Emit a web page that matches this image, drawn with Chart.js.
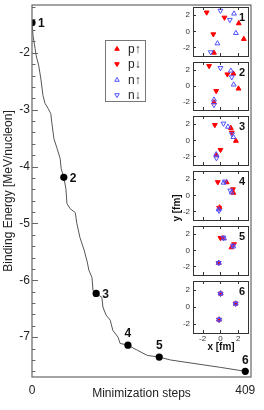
<!DOCTYPE html>
<html>
<head>
<meta charset="utf-8">
<script src="https://cdn.jsdelivr.net/npm/chart.js@4.4.1/dist/chart.umd.min.js"></script>
<style>
  body { margin: 0; background: #fff; }
  #fig { position: relative; width: 264px; height: 410px; }
  #fig canvas { position: absolute; }
</style>
</head>
<body>
<div id="fig">
  <canvas id="main" width="264" height="410" style="left:0;top:0"></canvas>
</div>
<script>
// energy along the minimization path
const steps = [0, 2, 6, 8, 13, 17, 21, 25, 31, 36, 38, 42, 48, 54, 56, 61, 65, 67, 73, 83, 86, 92,
  100, 106, 109, 115, 117, 123, 134, 136, 142, 150, 155, 165, 169, 184, 202, 221, 244, 265, 309, 361, 409];
const energy = [-1.47, -1.70, -1.93, -2.05, -2.23, -2.46, -2.75, -2.89, -2.98, -3.07, -3.23, -3.51, -3.68,
  -3.86, -4.04, -4.19, -4.39, -4.65, -4.74, -4.81, -5.00, -5.25, -5.47, -5.68, -5.82, -5.95, -6.18, -6.23,
  -6.30, -6.47, -6.61, -6.70, -6.88, -7.00, -7.11, -7.14, -7.23, -7.32, -7.35, -7.40, -7.46, -7.53, -7.60];

// configurations shown in the insets
const markSteps = [0, 61, 123, 184, 244, 409];
const markEnergy = [-1.47, -4.19, -6.23, -7.14, -7.35, -7.60];
const markNames = ['1', '2', '3', '4', '5', '6'];

const xTickValues = [0, 409];
const yTickValues = [-7, -6, -5, -4, -3, -2];

// nucleon positions [x, y] in fm, one list per inset panel
const pUp = [
  [[2.05, 0.98], [2.62, -0.95], [-0.73, -2.65]],
  [[1.45, 1.53], [2.02, -0.36], [-0.73, -2.1]],
  [[1.16, 1.52], [1.73, -0.07], [-0.45, -1.85]],
  [[0.7, 1.6], [1.45, 0.3], [-0.1, -1.5]],
  [[0.27, 1.5], [1.23, 0.36], [-0.2, -1.56]],
  [[0.02, 1.53], [1.7, 0.36], [-0.16, -1.49]]
];
const pDown = [
  [[-1.55, 2.33], [0.45, 1.7], [-0.8, -0.36]],
  [[-1.27, 2.5], [0.77, 1.45], [-0.48, -0.65]],
  [[-0.63, 1.9], [1.27, 0.96], [0, -1.18]],
  [[-0.3, 1.63], [1.4, 0.75], [-0.15, -1.55]],
  [[0, 1.53], [1.52, 0.76], [-0.2, -1.56]],
  [[0, 1.53], [1.7, 0.38], [-0.16, -1.5]]
];
const nUp = [
  [[1.52, 2.18], [1.73, -0.22], [-0.34, -1.5]],
  [[1.16, 1.9], [1.48, 0.15], [-0.73, -1.75]],
  [[0.84, 1.67], [1.45, 0.4], [-0.48, -1.74]],
  [[0.35, 1.55], [1.25, 0.35], [-0.2, -1.75]],
  [[0.41, 1.45], [1.45, 0.47], [-0.18, -1.55]],
  [[0.02, 1.55], [1.7, 0.37], [-0.15, -1.5]]
];
const nDown = [
  [[0, 2.55], [1.05, 1.42], [-1.09, -2.58]],
  [[0, 2.25], [1.27, 1.09], [-0.73, -2.4]],
  [[0.34, 2.07], [1.3, 0.75], [-0.45, -2.2]],
  [[0.5, 1.7], [1.1, 0.6], [-0.15, -1.9]],
  [[0.34, 1.56], [1.41, 0.58], [-0.2, -1.56]],
  [[0, 1.52], [1.7, 0.36], [-0.16, -1.5]]
];
const species = ['p↑', 'p↓', 'n↑', 'n↓'];
const fmTicks = [-2, 0, 2];

const RED = '#ff0000';
const BLUE = '#5050ff';
const FONT = '"Liberation Sans", Arial, sans-serif';

Chart.defaults.font.family = FONT;
Chart.defaults.color = '#222';
Chart.defaults.animation = false;

const fig = document.getElementById('fig');

// box around the plot plus short inward ticks on the energy axis
const mainFrame = {
  id: 'mainFrame',
  afterDatasetsDraw(chart) {
    const { ctx, chartArea: a, scales } = chart;
    ctx.save();
    ctx.strokeStyle = '#666';
    ctx.lineWidth = 1.2;
    ctx.strokeRect(a.left, a.top, a.right - a.left, a.bottom - a.top);
    ctx.beginPath();
    scales.y.ticks.forEach(t => {
      const py = Math.round(scales.y.getPixelForValue(t.value)) + 0.5;
      const len = t.label === '' ? 3.5 : 6;
      ctx.moveTo(a.left, py);
      ctx.lineTo(a.left + len, py);
    });
    ctx.lineWidth = 1;
    ctx.stroke();
    ctx.restore();
  }
};

// numbers next to the marked points, legend box, inset axis title
const notes = {
  id: 'notes',
  afterDraw(chart) {
    const { ctx } = chart;
    const meta = chart.getDatasetMeta(0);
    ctx.save();
    ctx.fillStyle = '#111';
    ctx.font = 'bold 12px ' + FONT;
    meta.data.forEach((pt, i) => {
      if (i < 3) {
        ctx.textAlign = 'left';
        ctx.textBaseline = 'middle';
        ctx.fillText(markNames[i], pt.x + 6, pt.y + 1);
      } else {
        ctx.textAlign = 'center';
        ctx.textBaseline = 'middle';
        ctx.fillText(markNames[i], pt.x, pt.y - 11);
      }
    });

    // legend
    ctx.strokeStyle = '#777';
    ctx.lineWidth = 1;
    ctx.strokeRect(105.5, 40.5, 40, 61);
    const rows = [49, 64, 80, 95];
    const styles = [
      { fill: RED, stroke: RED, rot: 0 },
      { fill: RED, stroke: RED, rot: 180 },
      { fill: 'rgba(0,0,0,0)', stroke: BLUE, rot: 0 },
      { fill: 'rgba(0,0,0,0)', stroke: BLUE, rot: 180 }
    ];
    ctx.font = '12px ' + FONT;
    ctx.textAlign = 'left';
    ctx.textBaseline = 'middle';
    species.forEach((name, i) => {
      ctx.fillStyle = styles[i].fill;
      ctx.strokeStyle = styles[i].stroke;
      Chart.helpers.drawPoint(ctx, { pointStyle: 'triangle', rotation: styles[i].rot, radius: 2.6, borderWidth: 1 }, 117, rows[i]);
      ctx.fillStyle = '#222';
      ctx.fillText(name, 128, rows[i] + 1);
    });

    // inset y axis title
    ctx.save();
    ctx.translate(177, 208);
    ctx.rotate(-Math.PI / 2);
    ctx.font = 'bold 10px ' + FONT;
    ctx.textAlign = 'center';
    ctx.textBaseline = 'middle';
    ctx.fillStyle = '#111';
    ctx.fillText('y [fm]', 0, 0);
    ctx.restore();
    ctx.restore();
  }
};

new Chart(document.getElementById('main'), {
  type: 'line',
  data: {
    datasets: [
      {
        data: markSteps.map((s, i) => ({ x: s, y: markEnergy[i] })),
        showLine: false,
        pointRadius: 3.6,
        pointBackgroundColor: '#000',
        pointBorderColor: '#000',
        pointBorderWidth: 0
      },
      {
        data: steps.map((s, i) => ({ x: s, y: energy[i] })),
        borderColor: '#555',
        borderWidth: 1,
        pointRadius: 0,
        tension: 0
      }
    ]
  },
  options: {
    responsive: false,
    devicePixelRatio: 1,
    animation: false,
    layout: { padding: { top: 4, right: 13, left: 0, bottom: 0 } },
    plugins: { legend: { display: false }, tooltip: { enabled: false } },
    scales: {
      x: {
        type: 'linear',
        min: 0,
        max: 420,
        grid: { display: false, drawTicks: false },
        border: { display: false },
        afterBuildTicks: s => { s.ticks = xTickValues.map(v => ({ value: v })); },
        ticks: { font: { size: 12 }, padding: 6, maxRotation: 0, autoSkip: false, color: '#222' },
        title: { display: true, text: 'Minimization steps', font: { size: 12 }, color: '#222', padding: { top: 0, bottom: 9 } },
        afterFit: s => { s.height = 33; }
      },
      y: {
        type: 'linear',
        min: -7.70,
        max: -1.16,
        grid: { display: false, drawTicks: false },
        border: { display: false },
        afterBuildTicks: s => {
          const t = [];
          for (let k = -38; k <= -6; k++) t.push({ value: k / 5 });
          s.ticks = t;
        },
        ticks: {
          font: { size: 12, lineHeight: 0.5 },
          padding: 2,
          autoSkip: false,
          color: '#222',
          callback: v => yTickValues.includes(Math.round(v * 10) / 10) ? String(Math.round(v)) : ''
        },
        title: { display: true, text: 'Binding Energy [MeV/nucleon]', font: { size: 12 }, color: '#222', padding: { top: 1, bottom: 0 } },
        afterFit: s => { s.width = 32; }
      }
    }
  },
  plugins: [mainFrame, notes]
});

// inset panels
const panelTop = [4, 59, 113, 168, 223, 278];
const panelH = [55, 54, 55, 55, 55, 55];

const panelDeco = {
  id: 'panelDeco',
  afterDatasetsDraw(chart, args, opts) {
    const { ctx, chartArea: a, scales } = chart;
    ctx.save();
    ctx.strokeStyle = '#333';
    ctx.lineWidth = 1;
    ctx.strokeRect(a.left + 0.5, a.top + 0.5, a.right - a.left - 1, a.bottom - a.top);
    ctx.beginPath();
    fmTicks.forEach(v => {
      const px = Math.round(scales.x.getPixelForValue(v)) + 0.5;
      ctx.moveTo(px, a.top); ctx.lineTo(px, a.top + 3);
      ctx.moveTo(px, a.bottom); ctx.lineTo(px, a.bottom - 3);
      const py = Math.round(scales.y.getPixelForValue(v)) + 0.5;
      ctx.moveTo(a.left, py); ctx.lineTo(a.left + 3, py);
    });
    ctx.stroke();
    ctx.fillStyle = '#111';
    ctx.font = 'bold 11px ' + FONT;
    ctx.textAlign = 'center';
    ctx.textBaseline = 'middle';
    ctx.fillText(opts.name, a.right - 7, a.top + 11);
    ctx.restore();
  }
};

function makePanel(i) {
  const last = i === panelTop.length - 1;
  const cv = document.createElement('canvas');
  cv.width = 84;
  cv.height = panelH[i] + 2 + (last ? 23 : 2);
  cv.style.left = '170px';
  cv.style.top = (panelTop[i] - 2) + 'px';
  fig.appendChild(cv);

  const pts = list => list[i].map(p => ({ x: p[0], y: p[1] }));
  const open = 'rgba(0,0,0,0)';
  const set = (label, data, color, fill, rot, order) => ({
    label, data, order,
    pointStyle: 'triangle',
    pointRotation: rot,
    pointRadius: 2.8,
    pointBorderWidth: 1,
    pointBorderColor: color,
    pointBackgroundColor: fill
  });

  new Chart(cv, {
    type: 'scatter',
    data: {
      datasets: [
        set(species[2], pts(nUp), BLUE, open, 0, 0),
        set(species[3], pts(nDown), BLUE, open, 180, 0),
        set(species[0], pts(pUp), RED, RED, 0, 1),
        set(species[1], pts(pDown), RED, RED, 180, 1)
      ]
    },
    options: {
      responsive: false,
      devicePixelRatio: 1,
      animation: false,
      layout: { padding: { top: 2, bottom: last ? 0 : 2, left: 0, right: 3 } },
      plugins: { legend: { display: false }, tooltip: { enabled: false }, panelDeco: { name: markNames[i] } },
      scales: {
        x: {
          type: 'linear',
          min: -3.08,
          max: 3.2,
          display: last,
          grid: { display: false, drawTicks: false },
          border: { display: false },
          afterBuildTicks: s => { s.ticks = fmTicks.map(v => ({ value: v })); },
          ticks: { font: { size: 8 }, padding: 1, color: '#333', maxRotation: 0, autoSkip: false },
          title: { display: true, text: 'x [fm]', font: { size: 10, weight: 'bold' }, color: '#111', padding: { top: 0, bottom: 3 } },
          afterFit: s => { s.height = last ? 23 : 0; }
        },
        y: {
          type: 'linear',
          min: -3.05,
          max: 3.0,
          grid: { display: false, drawTicks: false },
          border: { display: false },
          afterBuildTicks: s => { s.ticks = fmTicks.map(v => ({ value: v })); },
          ticks: { font: { size: 8, lineHeight: 0.4 }, padding: 3, color: '#333', autoSkip: false },
          afterFit: s => { s.width = 23; }
        }
      }
    },
    plugins: [panelDeco]
  });
}

panelTop.forEach((t, i) => makePanel(i));
</script>
</body>
</html>
